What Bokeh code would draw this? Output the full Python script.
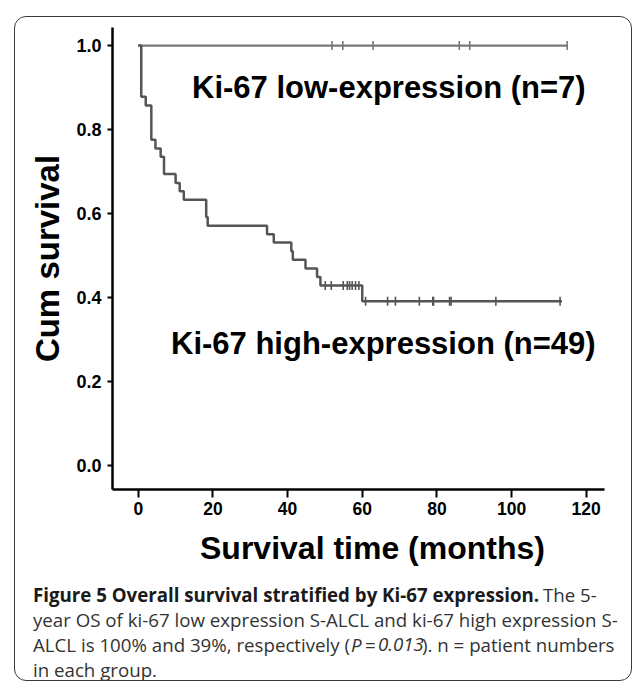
import numpy as np
from bokeh.plotting import figure
from bokeh.layouts import column
from bokeh.models import Range1d, Label, FixedTicker, NumeralTickFormatter
from bokeh.embed import file_html
from bokeh.resources import INLINE

# ---------------- data ----------------
# Ki-67 high expression (n=49): step times (months) and cumulative survival after each step
high_time = [0.0, 0.8, 2.0, 3.5, 4.6, 6.0, 6.9, 10.0, 11.1, 12.2, 18.2, 18.6,
             34.5, 36.3, 41.0, 41.4, 44.8, 47.9, 48.8, 60.0, 113.5]
high_surv = [1.0, 0.878, 0.857, 0.776, 0.755, 0.735, 0.694, 0.673, 0.653, 0.633, 0.592, 0.571,
             0.551, 0.531, 0.510, 0.490, 0.469, 0.449, 0.429, 0.391, 0.391]
high_censor_time = [50.1, 51.7, 54.9, 56.0, 56.6, 57.3, 58.2, 59.1,
                    60.9, 66.8, 68.9, 75.3, 78.9, 79.1, 83.4, 83.8, 95.8, 113.0]

# Ki-67 low expression (n=7)
low_time = [0.0, 114.9]
low_surv = [1.0, 1.0]
low_censor_time = [51.9, 54.8, 62.9, 86.0, 88.8, 114.9]

x_ticks = [0, 20, 40, 60, 80, 100, 120]
x_tick_labels = ["0", "20", "40", "60", "80", "100", "120"]
y_ticks = [0.0, 0.2, 0.4, 0.6, 0.8, 1.0]
y_tick_labels = ["0.0", "0.2", "0.4", "0.6", "0.8", "1.0"]

low_label = "Ki-67 low-expression (n=7)"
high_label = "Ki-67 high-expression (n=49)"
x_title = "Survival time (months)"
y_title = "Cum survival"


def surv_at(times, survs, t):
    s = survs[0]
    for ti, si in zip(times, survs):
        if ti <= t:
            s = si
    return s


# ---------------- layout constants (page pixels) ----------------
OX, OY = 15.5, 17.5          # inner origin of the rounded frame
IW = 616                     # inner width
PH = 503                     # height of chart figure
CH = 160                     # height of caption figure
FL, FR, FT, FB = 97, 589, 10, 472   # chart frame edges inside the chart canvas

p = figure(width=IW, height=PH, title=None,
           x_range=Range1d(-6.9, 124.9), y_range=Range1d(-0.057, 1.043),
           output_backend="svg", toolbar_location=None,
           min_border_left=FL, min_border_right=IW - FR,
           min_border_top=FT, min_border_bottom=PH - FB)
p.frame_align = False
p.background_fill_color = None
p.border_fill_color = None
p.outline_line_color = None
p.xgrid.visible = False
p.ygrid.visible = False

# curves
HIGH_C = "#555555"
LOW_C = "#777777"
p.step(low_time, low_surv, mode="after", line_color=LOW_C, line_width=2.2)
p.scatter(low_censor_time, [surv_at(low_time, low_surv, t) for t in low_censor_time],
          marker="dash", angle=np.pi / 2, size=9, line_color=LOW_C, line_width=1.6)
p.step(high_time, high_surv, mode="after", line_color=HIGH_C, line_width=2.5)
p.scatter(high_censor_time, [surv_at(high_time, high_surv, t) for t in high_censor_time],
          marker="dash", angle=np.pi / 2, size=9, line_color=HIGH_C, line_width=1.6)

# axes
TICK_FONT = "Liberation Sans Narrow, Liberation Sans"
for ax in (p.xaxis, p.yaxis):
    ax.axis_line_color = "black"
    ax.axis_line_width = 2.5
    ax.major_tick_line_color = "black"
    ax.major_tick_line_width = 2
    ax.major_tick_in = 0
    ax.minor_tick_line_color = None
    ax.major_label_text_font = TICK_FONT
    ax.major_label_text_font_style = "bold"
    ax.major_label_text_color = "black"

p.xaxis.ticker = FixedTicker(ticks=x_ticks)
p.xaxis.major_label_overrides = {t: l for t, l in zip(x_ticks, x_tick_labels)}
p.xaxis.major_tick_out = 8
p.xaxis.major_label_standoff = 4
p.xaxis.major_label_text_font_size = "17.5px"

p.yaxis.ticker = FixedTicker(ticks=y_ticks)
p.yaxis.formatter = NumeralTickFormatter(format="0.0")
p.yaxis.major_label_overrides = {t: l for t, l in zip(y_ticks, y_tick_labels)}
p.yaxis.major_tick_out = 5
p.yaxis.major_label_standoff = 6
p.yaxis.major_label_text_font_size = "18px"
p.yaxis.axis_label = y_title
p.yaxis.axis_label_text_font = "Liberation Sans"
p.yaxis.axis_label_text_font_size = "33px"
p.yaxis.axis_label_text_font_style = "bold"
p.yaxis.axis_label_text_color = "black"
p.yaxis.axis_label_standoff = 7

BIG = "Liberation Sans"


def chart_label(pxp, pyp, text, size):
    # page coords -> chart frame screen coords
    cx = pxp - OX - FL
    cy = FB - (pyp - OY)
    p.add_layout(Label(x=cx, y=cy, x_units="screen", y_units="screen", text=text,
                       text_font=BIG, text_font_size=size, text_font_style="bold",
                       text_color="black", text_baseline="alphabetic"))


chart_label(192, 87, low_label, "31px")
chart_label(171, 343, high_label, "31px")

# ---------------- caption figure ----------------
c = figure(width=IW, height=CH, title=None, x_range=Range1d(0, IW), y_range=Range1d(0, CH),
           output_backend="svg", toolbar_location=None, x_axis_type=None, y_axis_type=None,
           min_border=0, min_border_left=0, min_border_right=0, min_border_top=0,
           min_border_bottom=0)
c.frame_align = False
c.background_fill_color = None
c.border_fill_color = None
c.outline_line_color = None
c.xgrid.visible = False
c.ygrid.visible = False
C_TOP = OY + PH   # page y of caption figure top


def cap_label(pxp, pyp, text, font, size, style="normal", color="#333333"):
    c.add_layout(Label(x=pxp - OX, y=(C_TOP + CH) - pyp, x_units="screen", y_units="screen",
                       text=text, text_font=font, text_font_size=size, text_font_style=style,
                       text_color=color, text_baseline="alphabetic"))


cap_label(200, 548, x_title, BIG, "32px", "bold", "black")

CAP = "Open Sans"
CS = "18.7px"
cap_label(33, 594, "Figure 5 Overall survival stratified by Ki-67 expression.", CAP, CS, "bold", "#1a1a1a")
cap_label(543, 594, "The 5-", CAP, CS)
cap_label(33, 619, "year OS of ki-67 low expression S-ALCL and ki-67 high expression S-", CAP, CS)
cap_label(33, 644, "ALCL is 100% and 39%, respectively (", CAP, CS)
cap_label(351, 644, "P", CAP, CS, "italic")
cap_label(365, 644, "=", CAP, CS)
cap_label(378, 644, "0.013", CAP, CS, "italic")
cap_label(422, 644, "). n = patient numbers", CAP, CS)
cap_label(33, 669, "in each group.", CAP, CS)

root = column(p, c, spacing=0, margin=(16, 0, 0, 14),
              styles={"border": "1.5px solid #3a3a3a", "border-radius": "12px",
                      "overflow": "hidden", "background": "white"})

open("out.html", "w").write(file_html(root, INLINE))
